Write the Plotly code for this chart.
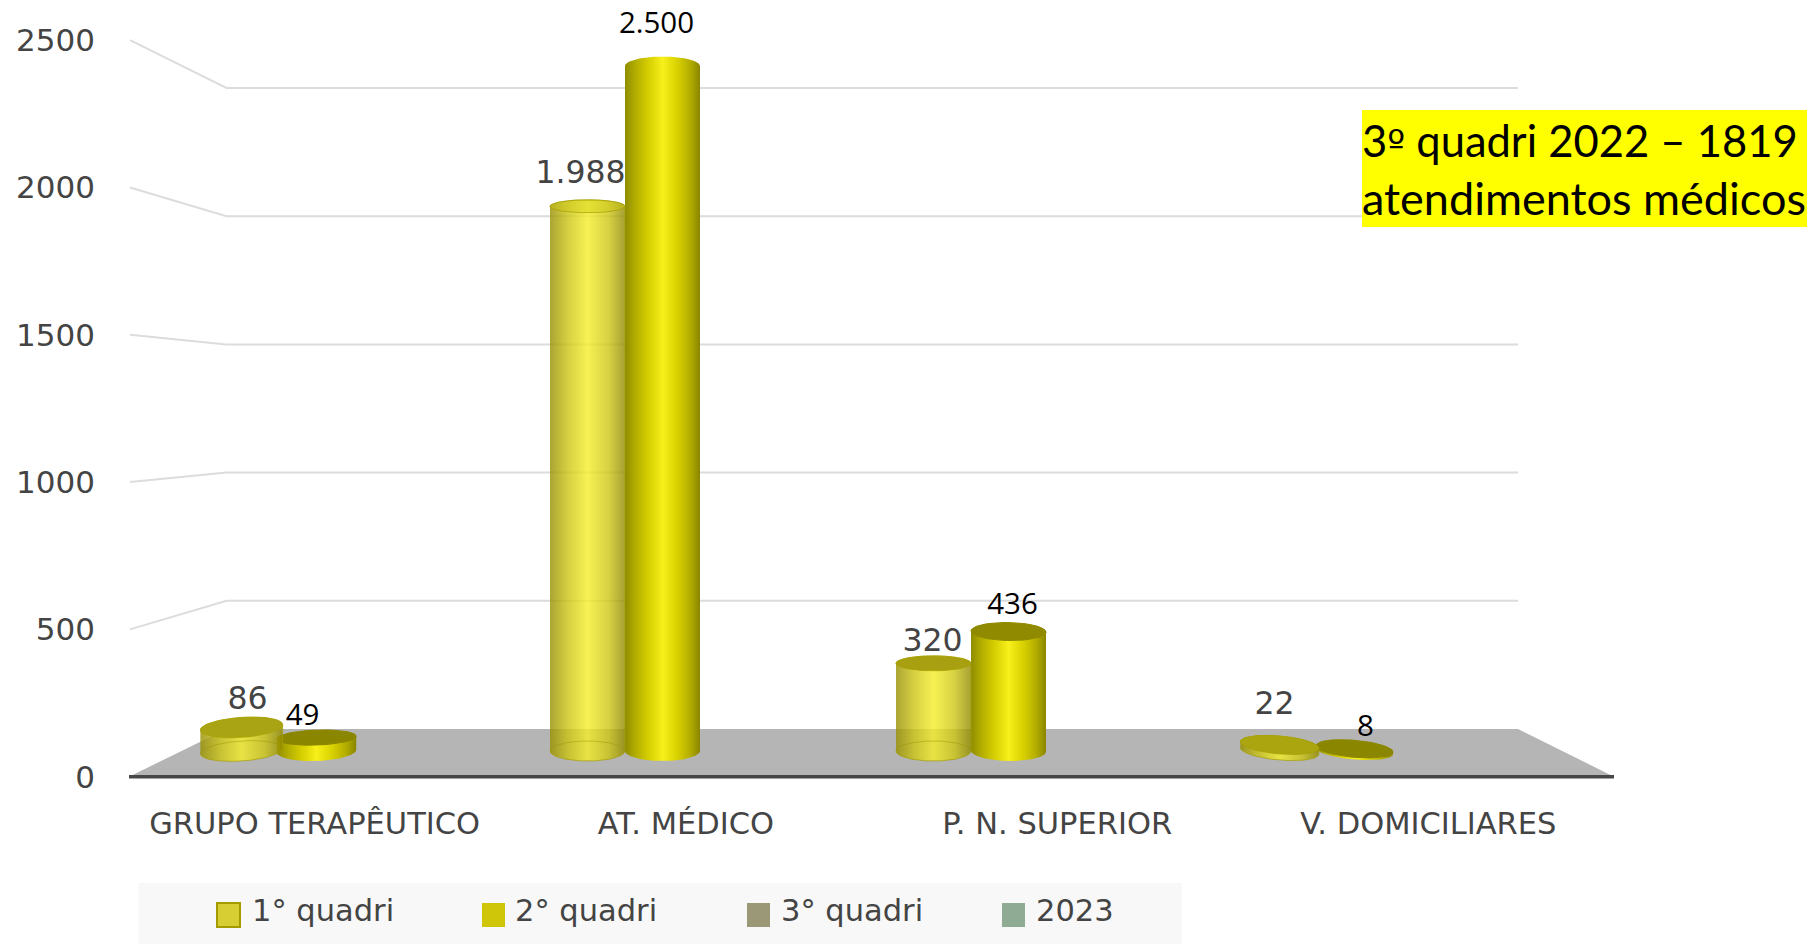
import numpy as np
import plotly.graph_objects as go

categories = ['GRUPO TERAPÊUTICO', 'AT. MÉDICO', 'P. N. SUPERIOR', 'V. DOMICILIARES']
quadri_1 = [86, 1988, 320, 22]
quadri_2 = [49, 2500, 436, 8]
y_ticks = [0, 500, 1000, 1500, 2000, 2500]
legend_names = ['1° quadri', '2° quadri', '3° quadri', '2023']
note_lines = ['3<span style="font-family:DejaVu Sans;font-size:38px">º</span> quadri 2022 – 1819', 'atendimentos médicos']

# picture geometry, the chart is a fake 3d so bars, back wall and front edge have their own scale
WIDTH, HEIGHT = 1811, 944
PLOT_L, PLOT_B = 96, 802
BASE_PX, PX_PER_UNIT = 751, 0.274
GROUP_PX, GROUP_STEP = 279, 346
BAR_RX = 37.5
BACK_L, BACK_R, FRONT_L, FRONT_R = 226.5, 1518, 129, 1614
BACK_0, BACK_SCALE = 729, 0.2564
FRONT_0, FRONT_SCALE = 776.7, 0.2946

TEXT_GREY = '#444444'
SANS = 'DejaVu Sans'
CALIBRI_LIKE = 'Lato'

BODY_2 = [[0, '#8f8c00'], [0.12, '#aea900'], [0.3, '#d3cc00'], [0.5, '#f8f01a'],
          [0.7, '#d8d100'], [0.88, '#b0aa00'], [1, '#8a8500']]
BODY_1 = [[0, 'rgba(150,142,0,0.8)'], [0.25, 'rgba(205,198,20,0.8)'], [0.5, 'rgba(245,238,40,0.8)'],
          [0.78, 'rgba(205,198,20,0.8)'], [1, 'rgba(145,138,0,0.8)']]

# one entry per category: lid colour (None = no lid), lid height, tilt in degrees, width factor
STYLE_1 = [('#a9a414', 10, 4, 1.1), ('rgba(205,200,10,0.4)', 6.5, 0, 1), ('#a8a010', 7.5, 0, 1), ('#aba510', 9, -5, 1.05)]
STYLE_2 = [('#8b8600', 7.5, 2, 1.06), (None, 9.5, 0, 1), ('#8f8a00', 9, -1, 1), ('#8b8600', 8.5, -5, 1.03)]

# label offsets from the top of the bar, pixels
LABEL_1 = [(6, -26), (-7, -31), (-1, -20), (-5, -39)]
LABEL_2 = [(-14, -20), (-6, -40), (4, -25), (11, -20)]


def x_of(px):
    return (np.asarray(px, dtype=float) - GROUP_PX) / GROUP_STEP


def y_of(px):
    return (BASE_PX - np.asarray(px, dtype=float)) / PX_PER_UNIT


def ellipse(cx, cy, rx, ry, tilt, start, stop):
    t = np.radians(np.linspace(start, stop, 60))
    a = np.radians(tilt)
    px = cx + rx * np.cos(t) * np.cos(a) - ry * np.sin(t) * np.sin(a)
    py = cy - rx * np.cos(t) * np.sin(a) - ry * np.sin(t) * np.cos(a)
    return px, py


def add_cylinder(fig, group, side, value, colorscale, style, rim):
    lid, lid_ry, tilt, wide = style
    rx = BAR_RX * wide
    cx = GROUP_PX + GROUP_STEP * group + side * BAR_RX
    top = BASE_PX - value * PX_PER_UNIT
    base_ry = 10 if abs(tilt) < 3 else lid_ry

    bx, by = ellipse(cx, BASE_PX, rx, base_ry, tilt, 180, 360)
    tx, ty = ellipse(cx, top, rx, lid_ry, tilt, 0, 180)
    fig.add_trace(go.Scatter(
        x=x_of(np.concatenate([bx, tx])), y=y_of(np.concatenate([by, ty])),
        mode='lines', line=dict(color=rim, width=1), fill='toself',
        fillgradient=dict(type='horizontal', colorscale=colorscale)
    ))
    if rim != 'rgba(0,0,0,0)':
        # see-through bars show the far side of the base
        hx, hy = ellipse(cx, BASE_PX, rx, base_ry, tilt, 0, 180)
        fig.add_trace(go.Scatter(x=x_of(hx), y=y_of(hy), mode='lines',
                                 line=dict(color='rgba(150,145,0,0.45)', width=1)))
    if lid:
        lx, ly = ellipse(cx, top, rx, lid_ry, tilt, 0, 360)
        fig.add_trace(go.Scatter(x=x_of(lx), y=y_of(ly), mode='lines', fill='toself', fillcolor=lid,
                                 line=dict(color=rim if rim != 'rgba(0,0,0,0)' else lid, width=1)))


fig = go.Figure()

# back wall lines with their slanted part towards the y labels
for v in y_ticks[1:]:
    fig.add_trace(go.Scatter(
        x=x_of([130, BACK_L, BACK_R]),
        y=y_of([FRONT_0 - FRONT_SCALE * v, BACK_0 - BACK_SCALE * v, BACK_0 - BACK_SCALE * v]),
        mode='lines', line=dict(color='#dcdcdc', width=2)
    ))

# floor
fig.add_trace(go.Scatter(
    x=x_of([FRONT_L, BACK_L, BACK_R, FRONT_R, FRONT_L]),
    y=y_of([FRONT_0, BACK_0, BACK_0, FRONT_0, FRONT_0]),
    mode='lines', line=dict(width=0), fill='toself', fillcolor='#b5b5b5'
))
fig.add_trace(go.Scatter(
    x=x_of([FRONT_L, FRONT_R]), y=y_of([FRONT_0, FRONT_0]),
    mode='lines', line=dict(color='#474747', width=3.5)
))

for i, v in enumerate(quadri_2):
    add_cylinder(fig, i, 1, v, BODY_2, STYLE_2[i], 'rgba(0,0,0,0)')
for i, v in enumerate(quadri_1):
    add_cylinder(fig, i, -1, v, BODY_1, STYLE_1[i], 'rgba(165,160,0,0.7)')


def add_labels(values, offsets, color, family, size):
    px = [GROUP_PX + GROUP_STEP * i + offsets[i][0] + (-BAR_RX if color == TEXT_GREY else BAR_RX) for i in range(4)]
    py = [BASE_PX - v * PX_PER_UNIT + offsets[i][1] for i, v in enumerate(values)]
    fig.add_trace(go.Scatter(
        x=x_of(px), y=y_of(py), mode='text',
        text=[f'{v:,}'.replace(',', '.') for v in values], textposition='middle center',
        textfont=dict(color=color, family=family, size=size)
    ))


add_labels(quadri_1, LABEL_1, TEXT_GREY, SANS, 31.5)
add_labels(quadri_2, LABEL_2, '#000000', 'Open Sans', 29.5)


def paper_x(px):
    return (px - PLOT_L) / (WIDTH - PLOT_L)


def paper_y(px):
    return (PLOT_B - px) / PLOT_B


def box(x0, y0, x1, y1, fill, line=None, width=0):
    return dict(type='rect', xref='paper', yref='paper', layer='above',
                x0=paper_x(x0), x1=paper_x(x1), y0=paper_y(y1), y1=paper_y(y0),
                fillcolor=fill, line=dict(color=line, width=width))


def label(text, px, py, family, size, color):
    return dict(text=text, xref='paper', yref='paper', x=paper_x(px), y=paper_y(py), showarrow=False,
                xanchor='left', yanchor='middle', font=dict(family=family, size=size, color=color))


legend_swatch_x = [217, 482, 747, 1002]
legend_text_x = [250, 513, 779, 1034]
legend_fill = ['#d6ce33', '#cfc60a', '#9b9878', '#8fab94']

shapes = [box(1362, 110, 1807, 227, '#ffff00'), box(138.5, 883, 1182, 944, '#f8f8f8')]
annotations = [label(note_lines[0], 1360, 140, CALIBRI_LIKE, 43.5, '#000000'),
               label(note_lines[1], 1360, 198, CALIBRI_LIKE, 45, '#000000')]
for i, name in enumerate(legend_names):
    shapes.append(box(legend_swatch_x[i], 903, legend_swatch_x[i] + 23, 927, legend_fill[i],
                      '#a39b00' if i == 0 else legend_fill[i], 2 if i == 0 else 0))
    annotations.append(label(name, legend_text_x[i], 910, SANS, 30.5, TEXT_GREY))

front_step = (FRONT_R - FRONT_L) / len(categories)
fig.update_layout(
    width=WIDTH, height=HEIGHT,
    margin=dict(l=PLOT_L, r=0, t=0, b=HEIGHT - PLOT_B, autoexpand=False),
    paper_bgcolor='white', plot_bgcolor='white',
    showlegend=False, hovermode=False,
    shapes=shapes, annotations=annotations,
    xaxis=dict(
        range=[float(x_of(PLOT_L)), float(x_of(WIDTH))],
        tickmode='array',
        tickvals=[float(x_of(FRONT_L + front_step * (i + 0.5))) for i in range(len(categories))],
        ticktext=categories, tickangle=0, ticklen=0,
        tickfont=dict(family=SANS, size=30.5, color=TEXT_GREY),
        showgrid=False, zeroline=False, showline=False
    ),
    yaxis=dict(
        range=[float(y_of(PLOT_B)), float(y_of(0))],
        tickmode='array',
        tickvals=[float(y_of(FRONT_0 - FRONT_SCALE * v)) for v in y_ticks],
        ticktext=[str(v) for v in y_ticks], ticklen=0,
        tickfont=dict(family=SANS, size=31, color=TEXT_GREY),
        showgrid=False, zeroline=False, showline=False
    )
)

fig.write_html("out.html", config=dict(displayModeBar=False),
               post_script="document.body.style.margin='0';document.body.style.overflow='hidden';")
